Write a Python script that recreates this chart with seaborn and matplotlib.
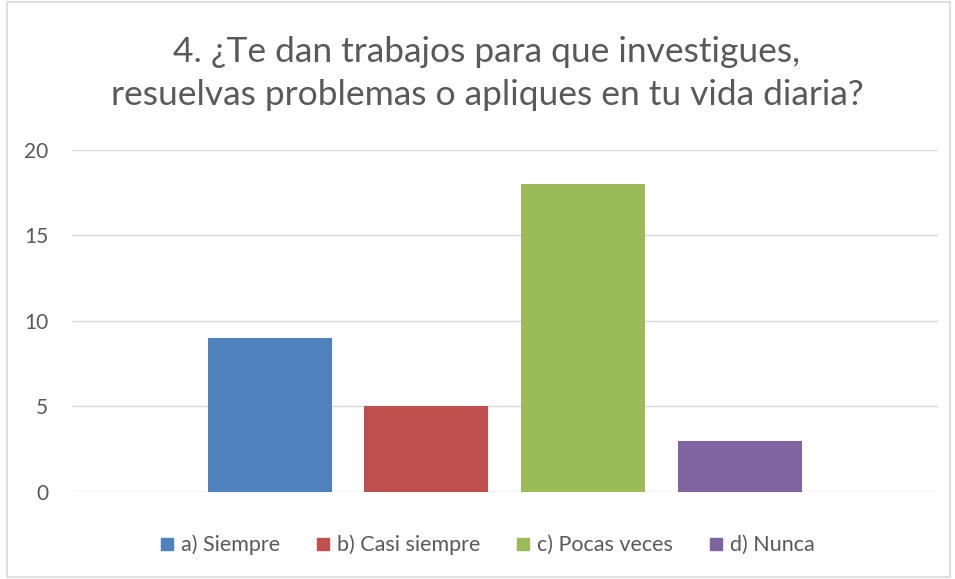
import pandas as pd
import matplotlib.pyplot as plt
from matplotlib.patches import Rectangle
from matplotlib.lines import Line2D
import seaborn as sns

# data
series = ["a) Siempre", "b) Casi siempre", "c) Pocas veces", "d) Nunca"]
values = [9, 5, 18, 3]
colors = ["#4F81BD", "#C0504D", "#9BBB59", "#8064A2"]
yticks = [0, 5, 10, 15, 20]
title = "4. ¿Te dan trabajos para que investigues,\nresuelvas problemas o apliques en tu vida diaria?"

df = pd.DataFrame({"grupo": ["x"] * len(series), "serie": series, "valor": values})

sns.set_style("white")
plt.rcParams["font.family"] = ["Lato", "DejaVu Sans"]

fig = plt.figure(figsize=(9.55, 5.79), dpi=100)
ax = fig.add_axes([0.0754, 0.1503, 0.9066, 0.5907])

sns.barplot(data=df, x="grupo", y="valor", hue="serie", hue_order=series,
            palette=colors, width=0.725, gap=0.21, saturation=1,
            linewidth=0, legend=False, ax=ax)

ax.set_xlim(-0.5, 0.5)
ax.set_ylim(0, 20)
ax.set_yticks(yticks)
ax.yaxis.grid(True, color="#D9D9D9", linewidth=1)
ax.set_axisbelow(True)
ax.set_xticks([])
ax.set_xlabel("")
ax.set_ylabel("")
for s in ax.spines.values():
    s.set_visible(False)
ax.tick_params(axis="y", length=0, pad=17, labelsize=15, labelcolor="#595959")

fig.text(0.51, 0.873, title, ha="center", va="center", fontsize=25.5,
         color="#595959", linespacing=1.4)

handles = [Line2D([0], [0], marker="s", linestyle="", markersize=8,
                  markerfacecolor=c, markeredgecolor=c) for c in colors]
fig.legend(handles, series, loc="center", bbox_to_anchor=(0.51, 0.059),
           ncol=4, frameon=False, fontsize=15.5, labelcolor="#595959",
           handlelength=0.7, handletextpad=0.3, columnspacing=1.65)

fig.patches.append(Rectangle((0.007, 0.003), 0.988, 0.994, transform=fig.transFigure,
                             fill=False, edgecolor="#D9D9D9", linewidth=1.2))

fig.savefig("out.png", dpi=100)
